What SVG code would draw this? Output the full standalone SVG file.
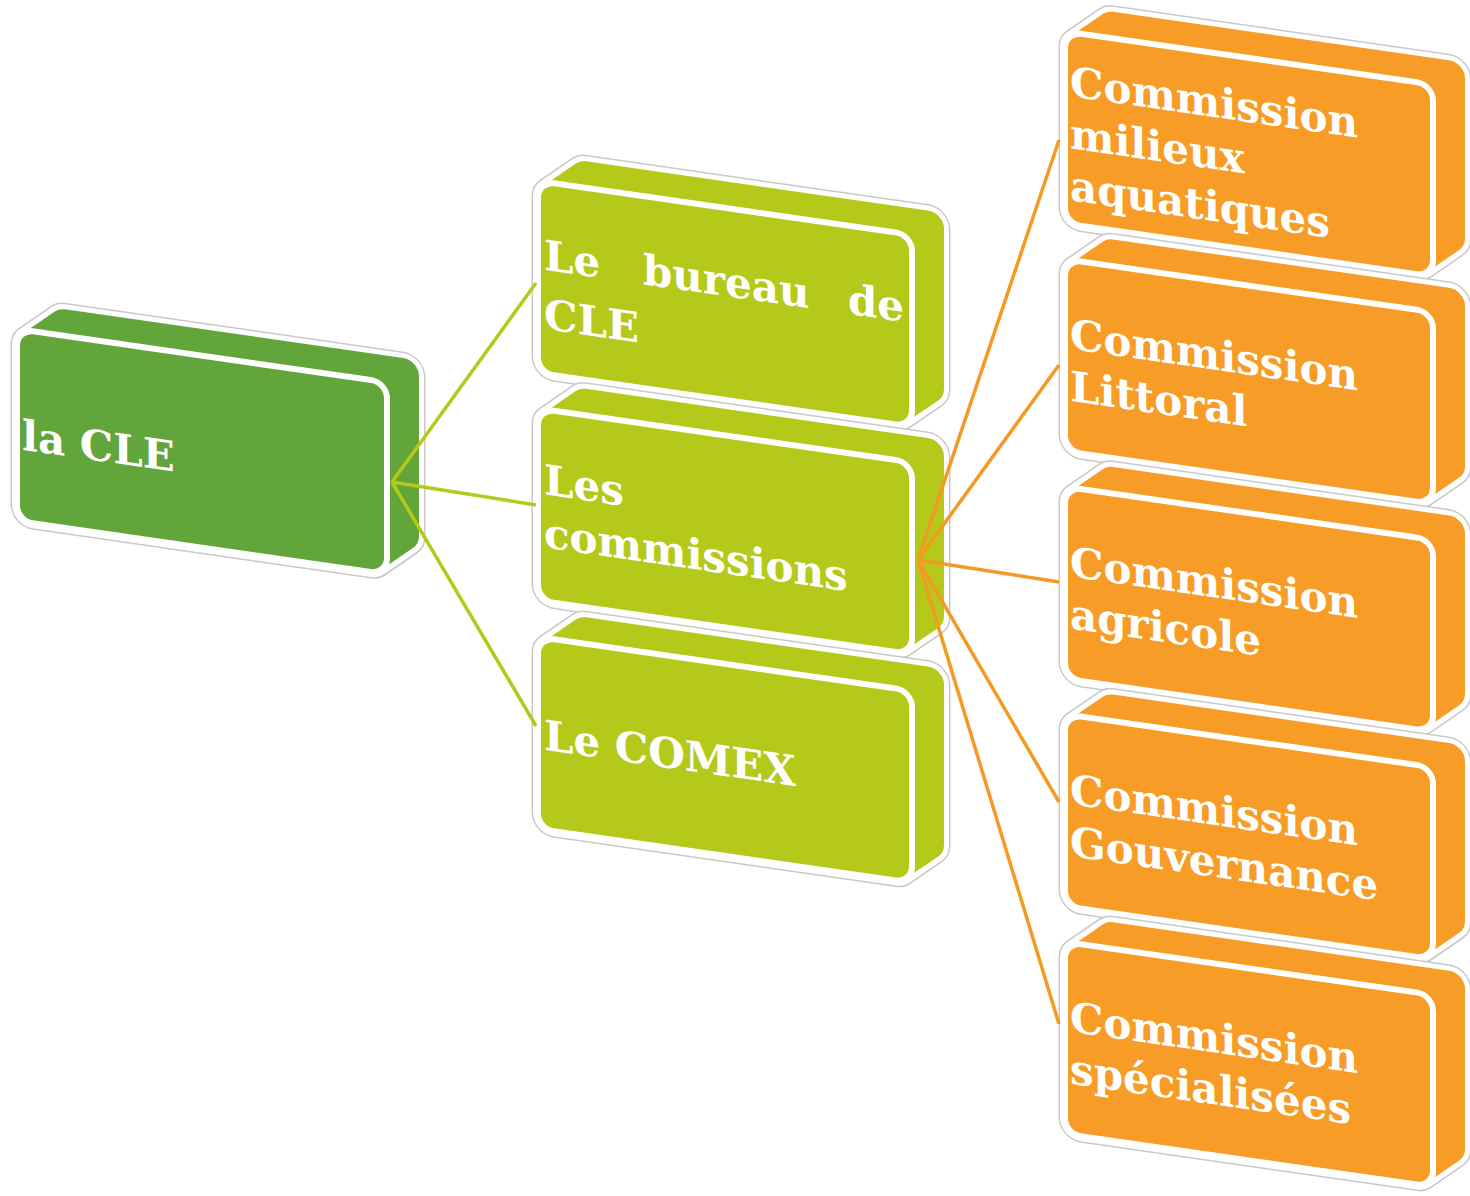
<svg xmlns="http://www.w3.org/2000/svg" width="1470" height="1196" viewBox="0 0 1470 1196">
<style>
.o1{fill:#c9c9c9;stroke:#c9c9c9;stroke-width:45;stroke-linejoin:round}
.o2{fill:#fff;stroke:#fff;stroke-width:42;stroke-linejoin:round}
.hb{stroke-width:32;stroke-linejoin:round}
.fr{stroke:#fff;stroke-width:6}
.dk{fill:#62a53b;stroke:#62a53b}
.lg{fill:#b5c91b;stroke:#b5c91b}
.or{fill:#f79c26;stroke:#f79c26}
.fr.dk,.fr.lg,.fr.or{stroke:#fff}
.t{font-family:"DejaVu Serif","Liberation Serif",serif;font-weight:bold;font-size:42px;fill:#fff}
.cg{stroke:#b5c91b;stroke-width:3.5;fill:none}
.co{stroke:#f39a24;stroke-width:3.5;fill:none}
</style>
<defs>
<polygon id="h370" points="16,16 48,-10.6 386,-10.6 386,149.4 354,176 16,176"/>
<polygon id="h374" points="16,16 48,-10.6 390,-10.6 390,149.4 358,176 16,176"/>
<polygon id="h368" points="16,16 48,-10.6 384,-10.6 384,149.4 352,176 16,176"/>
</defs>
<rect width="1470" height="1196" fill="#fff"/>

<g id="cle" transform="translate(17,329) skewY(8.2)">
<use href="#h370" class="o1"/><use href="#h370" class="o2"/><use href="#h370" class="hb dk"/>
<rect class="fr dk" x="0" y="0" width="370" height="192" rx="16"/>
<text class="t" x="5" y="120">la CLE</text>
</g>

<g id="bureau" transform="translate(538,181) skewY(8.2)">
<use href="#h374" class="o1"/><use href="#h374" class="o2"/><use href="#h374" class="hb lg"/>
<rect class="fr lg" x="0" y="0" width="374" height="192" rx="16"/>
<text class="t" y="88"><tspan x="6">Le</tspan><tspan x="105">bureau</tspan><tspan x="366" text-anchor="end">de</tspan></text>
<text class="t" x="6" y="147">CLE</text>
</g>

<g id="commissions" transform="translate(538,408.5) skewY(8.2)">
<use href="#h374" class="o1"/><use href="#h374" class="o2"/><use href="#h374" class="hb lg"/>
<rect class="fr lg" x="0" y="0" width="374" height="192" rx="16"/>
<text class="t" x="6" y="85">Les</text>
<text class="t" x="6" y="138">commissions</text>
</g>

<g id="comex" transform="translate(538,637) skewY(8.2)">
<use href="#h374" class="o1"/><use href="#h374" class="o2"/><use href="#h374" class="hb lg"/>
<rect class="fr lg" x="0" y="0" width="374" height="192" rx="16"/>
<text class="t" x="6" y="112">Le COMEX</text>
</g>

<g id="milieux" transform="translate(1065,31.5) skewY(8.2)">
<use href="#h368" class="o1"/><use href="#h368" class="o2"/><use href="#h368" class="hb or"/>
<rect class="fr or" x="0" y="0" width="368" height="192" rx="16"/>
<text class="t" x="5" y="64">Commission</text>
<text class="t" x="5" y="116">milieux</text>
<text class="t" x="5" y="168">aquatiques</text>
</g>

<g id="littoral" transform="translate(1065,259.1) skewY(8.2)">
<use href="#h368" class="o1"/><use href="#h368" class="o2"/><use href="#h368" class="hb or"/>
<rect class="fr or" x="0" y="0" width="368" height="192" rx="16"/>
<text class="t" x="5" y="89">Commission</text>
<text class="t" x="5" y="141">Littoral</text>
</g>

<g id="agricole" transform="translate(1065,486.7) skewY(8.2)">
<use href="#h368" class="o1"/><use href="#h368" class="o2"/><use href="#h368" class="hb or"/>
<rect class="fr or" x="0" y="0" width="368" height="192" rx="16"/>
<text class="t" x="5" y="89">Commission</text>
<text class="t" x="5" y="141">agricole</text>
</g>

<g id="gouvernance" transform="translate(1065,714.3) skewY(8.2)">
<use href="#h368" class="o1"/><use href="#h368" class="o2"/><use href="#h368" class="hb or"/>
<rect class="fr or" x="0" y="0" width="368" height="192" rx="16"/>
<text class="t" x="5" y="89">Commission</text>
<text class="t" x="5" y="141">Gouvernance</text>
</g>

<g id="specialisees" transform="translate(1065,941.9) skewY(8.2)">
<use href="#h368" class="o1"/><use href="#h368" class="o2"/><use href="#h368" class="hb or"/>
<rect class="fr or" x="0" y="0" width="368" height="192" rx="16"/>
<text class="t" x="5" y="89">Commission</text>
<text class="t" x="5" y="141">spécialisées</text>
</g>

<g id="connectors">
<line class="cg" x1="392" y1="482" x2="536" y2="283"/>
<line class="cg" x1="392" y1="482" x2="536" y2="505"/>
<line class="cg" x1="392" y1="482" x2="536" y2="726"/>
<line class="co" x1="918" y1="560" x2="1059" y2="140"/>
<line class="co" x1="918" y1="560" x2="1059" y2="365"/>
<line class="co" x1="918" y1="560" x2="1059" y2="582"/>
<line class="co" x1="918" y1="560" x2="1059" y2="802"/>
<line class="co" x1="918" y1="560" x2="1059" y2="1024"/>
</g>
</svg>
